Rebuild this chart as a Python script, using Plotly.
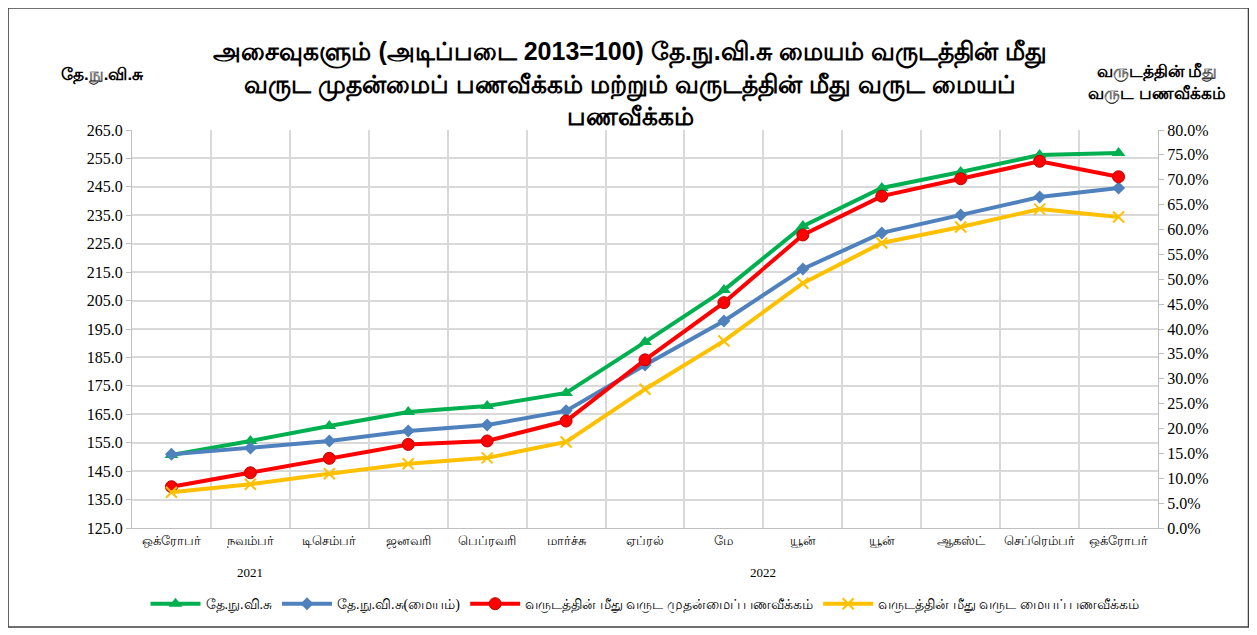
import plotly.graph_objects as go

months = ["ஒக்ரோபர்", "நவம்பர்", "டிசெம்பர்", "ஜனவரி", "பெப்ரவரி", "மார்ச்சு", "ஏப்ரல்",
          "மே", "யூன்", "யூன்", "ஆகஸ்ட்", "செப்ரெம்பர்", "ஒக்ரோபர்"]
x_pos = list(range(len(months)))
ncpi = [150.7, 155.6, 160.9, 165.8, 167.9, 172.5, 190.4, 208.7, 231.2, 244.6, 250.2, 256.2, 256.9]
ncpi_core = [150.9, 153.1, 155.6, 159.1, 161.2, 166.2, 182.3, 197.8, 216.1, 228.8, 235.1, 241.4, 244.6]
headline_yoy = [0.083, 0.111, 0.140, 0.168, 0.175, 0.215, 0.338, 0.453, 0.589, 0.667, 0.702, 0.737, 0.706]
core_yoy = [0.072, 0.088, 0.109, 0.129, 0.141, 0.173, 0.279, 0.376, 0.492, 0.573, 0.605, 0.641, 0.625]
years = ["2021", "2022"]
year_pos = [1, 7.5]

names = ["தே.நு.வி.சு", "தே.நு.வி.சு(மையம்)",
         "வருடத்தின் மீது வருட முதன்மைப் பணவீக்கம்",
         "வருடத்தின் மீது வருட மையப் பணவீக்கம்"]
title_text = ("அசைவுகளும் (அடிப்படை 2013=100) தே.நு.வி.சு மையம் வருடத்தின் மீது<br>"
              "வருட முதன்மைப் பணவீக்கம் மற்றும் வருடத்தின் மீது வருட மையப்<br>பணவீக்கம்")

serif = "Liberation Serif, Times New Roman, serif"
sans = "Liberation Sans, Arial, sans-serif"

fig = go.Figure()
fig.add_trace(go.Scatter(x=x_pos, y=ncpi, name=names[0], mode="lines+markers",
                         line=dict(color="#00B050", width=4),
                         marker=dict(symbol="triangle-up", size=12, color="#00B050")))
fig.add_trace(go.Scatter(x=x_pos, y=ncpi_core, name=names[1], mode="lines+markers",
                         line=dict(color="#4F81BD", width=4),
                         marker=dict(symbol="diamond", size=10, color="#4F81BD")))
fig.add_trace(go.Scatter(x=x_pos, y=headline_yoy, name=names[2], mode="lines+markers",
                         yaxis="y2", line=dict(color="#FF0000", width=4),
                         marker=dict(symbol="circle", size=12, color="#FF0000",
                                     line=dict(color="#C00000", width=1))))
fig.add_trace(go.Scatter(x=x_pos, y=core_yoy, name=names[3], mode="lines+markers",
                         yaxis="y2", line=dict(color="#FFC000", width=4),
                         marker=dict(symbol="x-thin", size=11, color="#FFC000",
                                     line=dict(color="#FFC000", width=2))))
# invisible trace for boundary gridlines on xaxis2
fig.add_trace(go.Scatter(x=[-0.5, 12.5], y=[None, None], xaxis="x2", showlegend=False,
                         hoverinfo="skip"))

fig.update_layout(
    width=1249, height=627,
    paper_bgcolor="white", plot_bgcolor="white",
    margin=dict(l=124, r=98.5, t=122, b=107, autoexpand=False),
    title=dict(text=title_text, x=0.498, xanchor="center", y=0.9167, yanchor="top",
               font=dict(family=sans, size=25, color="black", weight="bold")),
    xaxis=dict(range=[-0.5, 12.5], tickvals=x_pos, ticktext=months, showgrid=False,
               ticks="", tickfont=dict(family=serif, size=13, color="black"),
               showline=True, linecolor="#bfbfbf", linewidth=1, zeroline=False),
    xaxis2=dict(range=[-0.5, 12.5], overlaying="x", tickvals=[i - 0.5 for i in range(14)],
                showticklabels=False, showgrid=True, gridcolor="#d9d9d9", gridwidth=2,
                zeroline=False, ticks=""),
    yaxis=dict(range=[125, 265], dtick=10, tick0=125, tickformat=".1f", showgrid=True,
               gridcolor="#d9d9d9", gridwidth=2, zeroline=False,
               showline=True, linecolor="#bfbfbf", ticks="outside", ticklen=5,
               tickcolor="#bfbfbf",
               tickfont=dict(family=serif, size=16, color="black")),
    yaxis2=dict(range=[0, 0.8], dtick=0.05, tickformat=".1%", overlaying="y", side="right",
                showgrid=False, zeroline=False, showline=True, linecolor="#bfbfbf",
                ticks="outside", ticklen=5, tickcolor="#bfbfbf",
                tickfont=dict(family=serif, size=16, color="black")),
    legend=dict(orientation="h", x=0.5, xanchor="center", y=-0.151, yanchor="top",
                font=dict(family=serif, size=14, color="black"), itemwidth=50),
    showlegend=True,
)

for yr, xp in zip(years, year_pos):
    fig.add_annotation(x=xp, y=-0.113, xref="x", yref="paper", text=yr, showarrow=False,
                       font=dict(family=serif, size=13, color="black"), yanchor="middle")

fig.add_annotation(x=-0.0292, y=1.138, xref="paper", yref="paper", text="<b>தே.நு.வி.சு</b>",
                   showarrow=False, font=dict(family=sans, size=17, color="black"),
                   xanchor="center", yanchor="middle")
fig.add_annotation(x=0.9995, y=1.117, xref="paper", yref="paper",
                   text="<b>வருடத்தின் மீது<br>வருட பணவீக்கம்</b>",
                   showarrow=False, font=dict(family=sans, size=17, color="black"),
                   xanchor="center", yanchor="middle")

fig.add_shape(type="rect", xref="paper", yref="paper", x0=-0.1208, x1=1.0882,
              y0=-0.2487, y1=1.3065, line=dict(color="#404040", width=1.5), layer="below")

fig.write_html("out.html")
